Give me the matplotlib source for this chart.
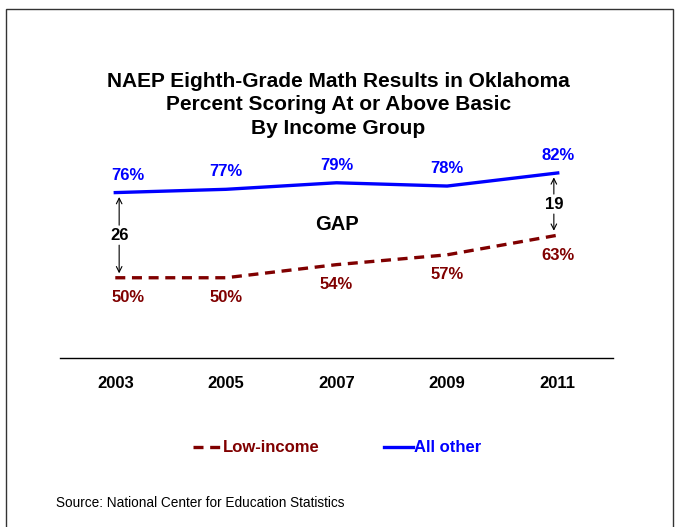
import matplotlib.pyplot as plt
from matplotlib.patches import Rectangle

plt.rcParams['font.family'] = ['Liberation Sans', 'DejaVu Sans']

# data
years = [2003, 2005, 2007, 2009, 2011]
low_income = [50, 50, 54, 57, 63]
all_other = [76, 77, 79, 78, 82]
blue = '#0000FF'
red = '#800000'

fig = plt.figure(figsize=(6.77, 5.27), dpi=100)
ax = fig.add_axes([0.0886, 0.3207, 0.8169, 0.463])

ax.plot(years, low_income, color=red, lw=2.4, ls=(0, (3, 2)), label='Low-income')
ax.plot(years, all_other, color=blue, lw=2.4, label='All other')

# value labels (first one nudged right to clear the gap arrow)
for i, (x, v) in enumerate(zip(years, all_other)):
    dx = 9 if i == 0 else 0
    ax.annotate(f'{v}%', (x, v), xytext=(dx, 12.5), textcoords='offset points',
                ha='center', va='center', color=blue, fontsize=12, fontweight='bold')
for i, (x, v) in enumerate(zip(years, low_income)):
    dx = 9 if i == 0 else 0
    ax.annotate(f'{v}%', (x, v), xytext=(dx, -14.5), textcoords='offset points',
                ha='center', va='center', color=red, fontsize=12, fontweight='bold')

# gap markers
for x, lo, hi in [(years[0] + 0.07, low_income[0], all_other[0]),
                  (years[-1] - 0.07, low_income[-1], all_other[-1])]:
    mid = (lo + hi) / 2
    gap = hi - lo
    ax.text(x, mid, str(gap), ha='center', va='center', fontsize=12, fontweight='bold')
    ax.annotate('', xy=(x, hi - 0.5), xytext=(x, mid + 2.2),
                arrowprops=dict(arrowstyle='->', color='black', lw=0.8))
    ax.annotate('', xy=(x, lo + 0.5), xytext=(x, mid - 2.2),
                arrowprops=dict(arrowstyle='->', color='black', lw=0.8))

ax.text(2007, 66.3, 'GAP', ha='center', va='center', fontsize=14.5, fontweight='bold')

ax.set_xlim(2002, 2012)
ax.set_ylim(25.5, 100)
for s in ['top', 'right', 'left']:
    ax.spines[s].set_visible(False)
ax.spines['bottom'].set_linewidth(1.0)
ax.set_yticks([])
ax.set_xticks(years)
ax.set_xticklabels([str(y) for y in years], fontsize=12, fontweight='bold')
ax.tick_params(axis='x', length=0, pad=13)

fig.text(0.5, 0.801, 'NAEP Eighth-Grade Math Results in Oklahoma\nPercent Scoring At or Above Basic\nBy Income Group',
         ha='center', va='center', fontsize=15, fontweight='bold', linespacing=1.28)

leg = fig.legend(loc='center', bbox_to_anchor=(0.498, 0.15), ncol=2, frameon=False,
                 handlelength=1.7, handletextpad=0.1, columnspacing=3.9,
                 prop={'size': 12, 'weight': 'bold'}, labelcolor='linecolor')

fig.text(0.082, 0.045, 'Source: National Center for Education Statistics', fontsize=9.8,
         ha='left', va='center')

fig.patches.append(Rectangle((0.0089, -0.01), 0.985, 0.993, transform=fig.transFigure,
                             fill=False, edgecolor='#333333', lw=1.0))

fig.savefig('out.png', dpi=100)
